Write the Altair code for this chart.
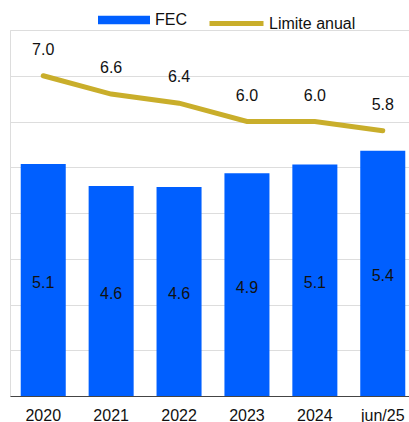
import altair as alt
import pandas as pd

categories = ["2020", "2021", "2022", "2023", "2024", "jun/25"]
fec_values = [5.07, 4.59, 4.57, 4.87, 5.06, 5.36]
limit_values = [7.0, 6.6, 6.4, 6.0, 6.0, 5.8]

BLUE = "#005FFF"
GOLD = "#C9AE2B"
FONT = "Liberation Sans"

bars_df = pd.DataFrame({"cat": categories, "v": fec_values, "serie": ["FEC"] * 6})
line_df = pd.DataFrame({"cat": categories, "v": limit_values, "serie": ["Limite anual"] * 6})

xenc = alt.X(
    "cat:N",
    sort=categories,
    title=None,
    scale=alt.Scale(range=[0, 406], paddingInner=0.337, paddingOuter=0.158),
    axis=alt.Axis(labelAngle=0, ticks=False, domainColor="#444", domainWidth=1,
                  labelFont=FONT, labelFontSize=16, labelColor="#111", labelPadding=11,
                  grid=False),
)
yscale = alt.Scale(domain=[0, 8], nice=False)
yaxis = alt.Axis(values=list(range(0, 9)), labels=False, ticks=False, domain=False,
                 grid=True, gridColor="#dddddd", gridWidth=1, title=None)

bars = alt.Chart(bars_df).mark_bar().encode(
    x=xenc,
    y=alt.Y("v:Q", scale=yscale, axis=yaxis),
    fill=alt.Fill("serie:N", scale=alt.Scale(domain=["FEC"], range=[BLUE]),
                  legend=alt.Legend(orient="none", legendX=88, legendY=-36, title=None,
                                    direction="horizontal", padding=0,
                                    symbolType="M-1,-0.16H1V0.16H-1Z", symbolSize=2704,
                                    symbolStrokeWidth=0, labelFont=FONT, labelFontSize=16,
                                    labelColor="#111", labelOffset=5)),
)

bar_labels = alt.Chart(bars_df).transform_calculate(
    half="datum.v / 2"
).mark_text(font=FONT, fontSize=16, color="#111", baseline="middle", dy=3).encode(
    x=alt.X("cat:N", sort=categories),
    y=alt.Y("half:Q", scale=yscale),
    text=alt.Text("v:Q", format=".1f"),
)

line = alt.Chart(line_df).mark_line(strokeWidth=5, strokeCap="round").encode(
    x=alt.X("cat:N", sort=categories),
    y=alt.Y("v:Q", scale=yscale),
    stroke=alt.Stroke("serie:N", scale=alt.Scale(domain=["Limite anual"], range=[GOLD]),
                      legend=alt.Legend(orient="none", legendX=197, legendY=-36, title=None,
                                        direction="horizontal", padding=0,
                                        symbolType="stroke", symbolSize=2916,
                                        symbolStrokeWidth=5, labelFont=FONT, labelFontSize=16,
                                        labelColor="#111", labelOffset=3)),
)

line_labels = alt.Chart(line_df).mark_text(font=FONT, fontSize=16, color="#111",
                                           baseline="middle", dy=-26).encode(
    x=alt.X("cat:N", sort=categories),
    y=alt.Y("v:Q", scale=yscale),
    text=alt.Text("v:Q", format=".1f"),
)

chart = alt.layer(bars, bar_labels, line, line_labels).resolve_legend(
    fill="independent", stroke="independent"
).properties(
    width=399, height=366,
    autosize=alt.AutoSizeParams(type="none"),
    padding={"left": 10, "top": 30, "right": 0, "bottom": 26},
).configure_view(stroke=None).configure(font=FONT, background="white")

chart.save("out.html", embed_options={"renderer": "svg", "actions": False})
